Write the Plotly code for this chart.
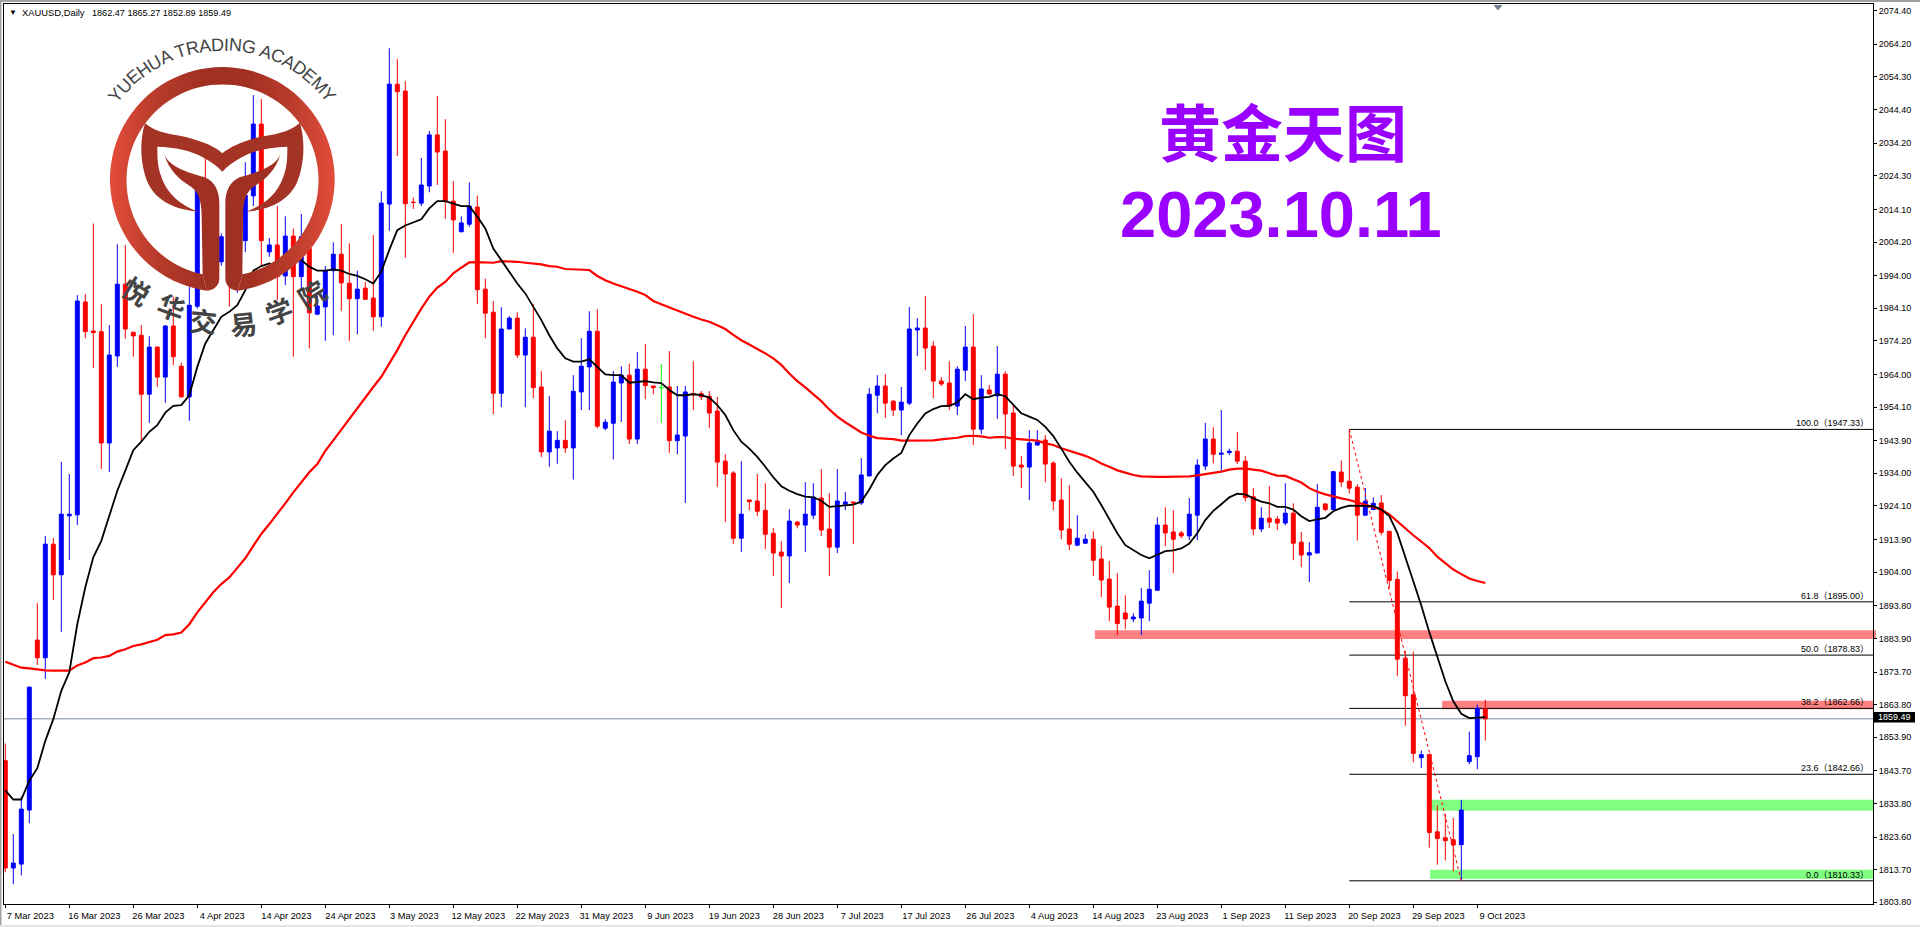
import base64, math
import plotly.graph_objects as go

opens = [1846.8,1814.2,1815.4,1831.8,1883.4,1878,1912.5,1903.2,1921.1,1921.4,
1986,1977.2,1977,1943.2,1969.6,1991.4,1976.8,1975.9,1958,1972.3,
1963.2,1978.7,1966.5,1957.2,1984.7,2020,2010,1998.2,1998,1993,
2004.6,2018.2,2040,2001.2,2003.3,1993.9,2006,1993.7,2002.3,1982.3,
1984.5,1995.5,2000.5,1991.7,1987,1990.2,1987.2,1981.5,2015.7,2052.1,
2050,2016.3,2016,2021.2,2036.7,2031.8,2016.6,2007.3,2009.6,2014.8,
1989.9,1982.9,1958.3,1977.8,1981.1,1969.9,1975.3,1960.2,1940.5,1941.7,
1944,1941.7,1958.7,1966.3,1977.1,1947.7,1949.2,1961.4,1963.8,1944.4,
1965.6,1960.5,1960,1960.2,1943.9,1945.3,1958.2,1958.2,1957.4,1952.9,
1937.7,1934.1,1914.3,1925.9,1925.6,1922.8,1915.8,1910.1,1908.9,1919.2,
1918.3,1921.3,1926.5,1917.1,1911.6,1924.6,1925.3,1925,1933.2,1957.7,
1960.5,1955.9,1953.2,1955.3,1977.5,1978.1,1972.6,1962,1961.4,1954.4,
1965.3,1972.3,1947.4,1959.3,1957.5,1964.1,1952.3,1936.5,1935.9,1942.6,
1944.1,1937.1,1925.9,1917.1,1912.2,1912.8,1914,1908,1901.9,1893.7,
1891.6,1889.8,1890.1,1894.6,1898.5,1918.3,1916.2,1915.9,1915,1921.3,
1936.2,1944.4,1939.8,1940.3,1940.7,1937.7,1926.9,1917.1,1920.4,1920.1,
1918.9,1921.9,1913.1,1909.2,1909.8,1924.7,1923,1934.4,1931.6,1929.8,
1921.3,1923,1925,1916.4,1901.8,1877.9,1866.8,1847.7,1848.7,1825.2,
1823.4,1822.8,1821.3,1846.5,1848,1862.47]

highs = [1852,1824.5,1835.9,1869.3,1894.6,1915,1914.4,1937.5,1933.8,1988.1,
1988.4,2009.8,1985.3,1979,2003.5,2003.3,1977,1979,1975.6,1972.5,
1979,1987.6,1967.6,1990.6,2021,2030.1,2012,2006.8,2006,2010,
2028.4,2048.8,2047.6,2005.4,2015.1,2012,2008.3,2012.7,2006,1988,
1996.9,2004.1,2009.6,2003.8,1995.5,1992.1,2006.3,2019.6,2063,2059.7,
2053,2017.7,2029.7,2037.9,2048.5,2041.5,2022.7,2012,2022.3,2018.3,
1993.1,1986.3,1984.4,1981.7,1982.9,1978,1985.3,1965,1957.4,1946.8,
1950.1,1963.8,1975,1983.2,1983.8,1950.4,1965,1966.5,1967.3,1970.8,
1973.2,1960.5,1967.2,1971.1,1960.5,1960.5,1968,1959,1959,1957.2,
1939.8,1934.7,1937.7,1926,1933.8,1931,1917.4,1913.4,1923.1,1919.5,
1931.3,1931,1935.3,1928,1935.3,1928.3,1925.3,1938.6,1959.9,1963.8,
1964.1,1956.2,1960.2,1984.5,1981.1,1987.8,1974.1,1963.2,1968,1966.5,
1978.7,1982.3,1963.8,1960.8,1972.6,1965,1954.7,1939.2,1947.1,1947.1,
1945.6,1937.7,1932.5,1930.4,1921.3,1915.5,1916.4,1911.9,1907.4,1903.7,
1897,1891.5,1899.2,1904.6,1920.7,1923.7,1922.8,1916.5,1926.5,1938.3,
1949.3,1948,1953.2,1941.5,1946.5,1939.2,1929.5,1923.7,1930.1,1921,
1931,1924.9,1916.2,1913.1,1930.7,1925,1934.7,1937.9,1947.3,1930.7,
1929.5,1926.7,1927.4,1916.5,1904.2,1880.1,1879.9,1849.9,1848.8,1833.3,
1830.6,1829.4,1834.9,1855.6,1863.8,1865.27]

lows = [1812.9,1809.3,1812,1827.8,1875.8,1871.6,1895.6,1885.9,1907.7,1918.3,
1975,1966,1935.3,1934.4,1966.3,1974.9,1969.4,1944,1949.3,1960.3,
1955.4,1966.8,1957,1949.9,1984,2008,1997,1997,1984.6,1988.8,
2001.2,2015.1,1996.7,1999.7,1986.6,1991.1,1969.4,1990,1971.9,1982,
1974.2,1975.9,1983.3,1974.2,1976.2,1986.7,1977.3,1978.5,2007.6,2030.3,
1999.4,2014.2,2015.1,2019.3,2021.5,2011.2,2000.9,2007.2,2008.8,1985.4,
1975,1951.9,1954.1,1977.7,1969,1954.1,1956.8,1938.9,1936,1936.9,
1940.2,1932.1,1953.2,1953.2,1947.7,1947.1,1938.2,1949.6,1942.9,1942.9,
1956.5,1958,1949.3,1940.2,1939.8,1925,1953.2,1956.2,1947.7,1929.9,
1919.2,1912.5,1910.1,1922.8,1921,1911,1902.8,1893.1,1900.7,1917.3,
1910.1,1920.1,1915,1902.8,1909.8,1922.8,1912.5,1924.4,1933.1,1952.2,
1950.8,1951.4,1945.6,1954.7,1969.6,1965.3,1956.8,1960.5,1953.2,1951.7,
1962,1942.6,1945.9,1957.8,1950.5,1941.3,1933.2,1929.5,1925.9,1942.3,
1931.3,1922.8,1914,1910.7,1911.9,1912.5,1902.8,1896.4,1889.1,1884.9,
1886.7,1888.8,1884.9,1889.1,1898.5,1911.9,1903.7,1914.3,1913.7,1913.7,
1935,1937,1934.8,1939.5,1936.8,1925.4,1915.2,1916.2,1917.4,1916.8,
1918.2,1907.6,1905.5,1901,1909.7,1922.5,1922.9,1929.9,1927.9,1913.6,
1921.2,1922.9,1915.2,1899,1872.4,1857.4,1846.3,1844.6,1820.4,1815.2,
1816.5,1813.2,1810.6,1845.7,1844.2,1852.89]

closes = [1814.2,1815.7,1832.1,1869.1,1878,1912.5,1903.2,1921.6,1921.6,1986.3,
1977,1976.7,1943.2,1969.9,1991.4,1977.8,1975.7,1958,1972.3,1963.2,
1978.7,1969.4,1957.2,1985,2020,2010,1999,2005.8,1993,2004.5,
2018.4,2040,2004.6,2003.3,1993.7,2006,1993.7,2005.8,1982.7,1984.8,
1995.5,2000.5,1991.8,1987,1989.9,1986.8,1981.5,2016,2052.1,2049.8,
2015.8,2016.2,2021.5,2036.7,2031.5,2016.6,2010.9,2010,2015.1,1989.7,
1982.6,1958.3,1977.8,1981.1,1969.9,1975.3,1960,1940.5,1946.8,1944,
1941.7,1958.9,1966.5,1977.1,1948.3,1949.5,1961.7,1963.8,1944.4,1965.6,
1960.6,1960,1960,1943.9,1945.6,1958.7,1958,1957.2,1952.3,1937.4,
1933.8,1914.3,1921.6,1925.4,1922.5,1915.5,1909.8,1908.9,1919.5,1918.3,
1921.6,1926.8,1916.8,1911.6,1925.6,1925.3,1925,1933.5,1958,1960.5,
1955.3,1953.2,1955.6,1977.8,1978.1,1972,1962,1961.1,1954.4,1965.6,
1972.3,1947.4,1959.6,1958.1,1964.1,1952,1936.2,1935.9,1943.2,1943.5,
1936.8,1925.6,1916.8,1912.5,1914.3,1914,1907.6,1901.6,1893.4,1888.4,
1889.8,1890.4,1895.2,1898.8,1918.3,1915.9,1914,1915,1921.6,1936.5,
1944.4,1939.8,1940.1,1940.7,1937.7,1926.6,1917.1,1920.4,1919.2,1918.9,
1921.9,1912.8,1909.2,1909.9,1923.7,1923,1934.5,1931.4,1929.5,1921.3,
1925.5,1924.9,1916.1,1901.5,1877.6,1866.5,1849,1848.6,1825,1823.2,
1822.5,1821.2,1831.8,1848.3,1862.7,1859.49]

ma_fast = [1837.8,1835,1835,1840.7,1844.5,1852.8,1859.4,1868,1873.6,1888.2,
1899.4,1908.5,1913.5,1921.1,1928.7,1934.8,1941,1943.6,1946.6,1948.6,
1952.4,1954.5,1954.7,1957.7,1966.3,1973.4,1977.5,1981.5,1983,1985,
1989.6,1995.5,1996.9,1997.7,1996.7,1998.2,1999.2,1998.7,1996.7,1995.5,
1995.5,1995.9,1995.5,1994.5,1993.9,1992.9,1991.6,1995.2,2001.8,2007.8,
2009.2,2010.1,2011.1,2014.4,2016.6,2016.6,2015.9,2015.1,2015.1,2011.9,
2008.3,2002.2,1998.7,1995.2,1991.6,1988.6,1984.5,1980.5,1975.9,1971.9,
1968.9,1967.9,1967.9,1968.6,1966.3,1964,1963.8,1963.8,1961.5,1961.8,
1962,1961.6,1961.4,1959.3,1957.7,1957.7,1958,1957.7,1957,1954.7,
1951.7,1947.1,1943.6,1941.5,1939,1936,1932.8,1930.1,1928.7,1927.7,
1926.9,1926.7,1925.7,1923.8,1924,1924.4,1924.5,1925.4,1929.1,1933.5,
1936.5,1938.5,1940.2,1945.6,1949.1,1952.2,1953.5,1954.4,1954.5,1955.5,
1958,1956.5,1957,1957.2,1958,1957.4,1954.7,1952.2,1951.2,1950.2,
1948.1,1945.3,1941.5,1937.5,1934.2,1931.4,1928.4,1924.4,1920.1,1915.8,
1912.2,1910.7,1909.2,1908.2,1909.4,1910.4,1910.6,1911.2,1912.7,1915.8,
1919.8,1922.6,1924.6,1926.7,1927.8,1927.6,1926.4,1925.4,1924.9,1923.8,
1923.8,1923,1921,1919.5,1920,1920.5,1922.5,1923.5,1924.2,1924.2,
1924.1,1924,1923,1921,1915.9,1908.7,1901.1,1893.9,1885.8,1878.1,
1870.9,1864.8,1861,1859.7,1859.8,1860]

ma_slow = [1876.8,1875.8,1875,1874.8,1874.4,1874.2,1874.1,1874.1,1874.1,1875.7,
1876.6,1877.9,1878.1,1878.6,1879.9,1880.6,1881.6,1882.1,1882.7,1883.5,
1884.9,1885.1,1885.7,1888.2,1891.8,1894.8,1897.9,1900.4,1902.4,1905.3,
1908.2,1912,1915.6,1918.6,1921.6,1924.9,1928.2,1931.3,1934.3,1936.8,
1940.8,1944,1947.3,1950.3,1953.6,1957.2,1960.2,1963.3,1967.3,1971.4,
1975.9,1980,1984,1987.6,1990.4,1992.1,1994.7,1996.4,1998,1998.1,
1997.9,1997.9,1998.4,1998.4,1998.2,1997.9,1997.7,1997.4,1996.9,1996.7,
1996,1995.9,1995.9,1995.7,1993.9,1992.6,1991.6,1990.8,1990.1,1989.1,
1988.1,1986.3,1985.3,1984.3,1983.3,1982.3,1981.5,1980.7,1980,1978.9,
1977.8,1976,1974.4,1973.1,1971.8,1970.4,1968.9,1966.9,1964.3,1962,
1960.1,1958,1955.9,1953.4,1951.2,1949.5,1947.9,1946.4,1945.4,1944.7,
1944.5,1944.4,1943.9,1943.9,1943.9,1943.9,1944,1944.3,1944.5,1944.8,
1945.3,1945.4,1945.2,1944.8,1945,1945,1944.5,1944.3,1944.2,1943.9,
1943.1,1942.6,1941.6,1940.8,1940.2,1939.3,1938.3,1937,1936,1934.9,
1934.2,1933.5,1933.1,1932.9,1932.9,1932.9,1932.9,1932.9,1933.1,1933.4,
1933.7,1934,1934.5,1935.1,1935.4,1935.4,1935.1,1934.8,1934,1933.3,
1933.2,1932.2,1931.2,1929.5,1928.4,1927.6,1926.9,1926.4,1925.9,1925.2,
1924.4,1923.8,1923,1921.5,1919.3,1917.2,1915.2,1913.3,1911.3,1908.7,
1906.7,1904.8,1903.4,1902.1,1901.3,1900.7]

x_tick_labels = ["7 Mar 2023","16 Mar 2023","26 Mar 2023","4 Apr 2023","14 Apr 2023","24 Apr 2023",
"3 May 2023","12 May 2023","22 May 2023","31 May 2023","9 Jun 2023","19 Jun 2023","28 Jun 2023",
"7 Jul 2023","17 Jul 2023","26 Jul 2023","4 Aug 2023","14 Aug 2023","23 Aug 2023","1 Sep 2023",
"11 Sep 2023","20 Sep 2023","29 Sep 2023","9 Oct 2023"]
y_ticks = [2074.40,2064.20,2054.30,2044.40,2034.20,2024.30,2014.10,2004.20,1994.00,1984.10,1974.20,
1964.00,1954.10,1943.90,1934.00,1924.10,1913.90,1904.00,1893.80,1883.90,1873.70,1863.80,1853.90,
1843.70,1833.80,1823.60,1813.70,1803.80]
fib_pct = ["100.0","61.8","50.0","38.2","23.6","0.0"]
fib_price = [1947.33,1895.00,1878.83,1862.66,1842.66,1810.33]
last_price = 1859.49
doji_index = 82
fib_start, fib_end = 168, 182
zones_pink = [(136.2,1883.7,1886.35,1876),(179.6,1862.4,1865.0,1874)]
zones_green = [(178.1,1831.6,1834.9,1873),(178.1,1810.9,1813.7,1873)]

W, H = 1920, 927
L, R, T, B = 4, 1873, 4, 904
BAR0, BARW = 5.3, 8.0
xmin = (L - BAR0) / BARW
xmax = (R - BAR0) / BARW
PPP = 3.295
ymax = 2074.4 + (10.7 - T) / PPP
ymin = 2074.4 - (B - 10.7) / PPP
def px(x): return (x - L) / (R - L)
def py(y): return 1 - (y - T) / (B - T)

idx = list(range(len(opens)))
main = [i for i in idx if i != doji_index]
fig = go.Figure()
fig.add_trace(go.Candlestick(
    x=main, open=[opens[i] for i in main], high=[highs[i] for i in main],
    low=[lows[i] for i in main], close=[closes[i] for i in main],
    increasing=dict(line=dict(color="#0000ff", width=1), fillcolor="#0000ff"),
    decreasing=dict(line=dict(color="#ff0000", width=1), fillcolor="#ff0000"),
    showlegend=False, hoverinfo="skip"))
fig.add_trace(go.Candlestick(
    x=[doji_index], open=[opens[doji_index]], high=[highs[doji_index]],
    low=[lows[doji_index]], close=[closes[doji_index]],
    increasing=dict(line=dict(color="#00ff00", width=1), fillcolor="#00ff00"),
    decreasing=dict(line=dict(color="#00ff00", width=1), fillcolor="#00ff00"),
    showlegend=False, hoverinfo="skip"))
fig.add_trace(go.Scatter(x=[fib_start, fib_end], y=[fib_price[0], fib_price[-1]], mode="lines",
    line=dict(color="#ff0000", width=1, dash="dot"), showlegend=False, hoverinfo="skip"))
fig.add_trace(go.Scatter(x=idx, y=ma_slow, mode="lines", line=dict(color="#ff0000", width=2.2),
    showlegend=False, hoverinfo="skip"))
fig.add_trace(go.Scatter(x=idx, y=ma_fast, mode="lines", line=dict(color="#000000", width=1.8),
    showlegend=False, hoverinfo="skip"))

shapes = []
for zones, colour in ((zones_pink, "#ff8080"), (zones_green, "#80ff80")):
    for x0, y0, y1, xr in zones:
        shapes.append(dict(type="rect", xref="paper", yref="y", x0=px(BAR0 + BARW * x0), x1=px(xr), y0=y0, y1=y1,
                           fillcolor=colour, line_width=0, layer="below"))
for level in fib_price:
    shapes.append(dict(type="line", xref="x", yref="y", x0=fib_start, x1=xmax, y0=level, y1=level,
                       line=dict(color="#000000", width=1), layer="below"))
shapes.append(dict(type="line", xref="x", yref="y", x0=xmin, x1=xmax, y0=last_price, y1=last_price,
                   line=dict(color="#778899", width=1), layer="below"))
# window chrome
shapes.append(dict(type="rect", xref="paper", yref="paper", x0=px(0), x1=px(1920), y0=py(0), y1=py(2),
                   fillcolor="#a0a0a0", line_width=0))
shapes.append(dict(type="rect", xref="paper", yref="paper", x0=px(0), x1=px(1.5), y0=py(0), y1=py(925),
                   fillcolor="#a0a0a0", line_width=0))
shapes.append(dict(type="rect", xref="paper", yref="paper", x0=px(0), x1=px(1920), y0=py(925), y1=py(927),
                   fillcolor="#e4e4e4", line_width=0))
# shift marker and current-price box
shapes.append(dict(type="path", xref="paper", yref="paper",
                   path=f"M{px(1493.5)},{py(5)} L{px(1502.5)},{py(5)} L{px(1498)},{py(10.5)} Z",
                   fillcolor="#708090", line_width=0))
shapes.append(dict(type="rect", xref="paper", yref="paper", x0=px(1874), x1=px(1915), y0=py(712), y1=py(722.5),
                   fillcolor="#000000", line_width=0))

anns = []
def text(x, y, s, size, color="#000000", family="Liberation Sans", anchor="left", bold=False, angle=0, yshift=0):
    anns.append(dict(xref="paper", yref="paper", x=px(x), y=py(y), text=f"<b>{s}</b>" if bold else s,
                     showarrow=False, xanchor=anchor, yanchor="middle", textangle=angle, yshift=yshift,
                     font=dict(size=size, color=color, family=family)))

text(7, 12.7, "▼", 8)
text(20, 12.7, "XAUUSD,Daily", 9.4)
text(90, 12.7, "1862.47 1865.27 1852.89 1859.49", 9.1)
text(1283, 130, "黄金天图", 62, "#9900ff", "Noto Sans CJK SC", "center", True)
text(1281, 214, "2023.10.11", 65, "#9900ff", "Liberation Sans", "center", True)
text(1894.5, 717.3, f"{last_price:.2f}", 9, "#ffffff", "Liberation Sans", "center")
for pct, level in zip(fib_pct, fib_price):
    anns.append(dict(xref="paper", yref="paper", x=px(1871), y=1 - (ymax - level) / (ymax - ymin),
                     text=f"{pct}（{level:.2f}）", showarrow=False,
                     xanchor="right", yanchor="middle", yshift=6,
                     font=dict(size=9, color="#000000", family="Liberation Sans, Noto Sans CJK SC")))

# logo lettering
arc = "YUEHUA TRADING ACADEMY"
adv = dict(Y=.667,U=.722,E=.667,H=.722,A=.667,T=.611,R=.722,D=.722,I=.278,N=.722,G=.778,C=.722,M=.833)
adv[" "] = .278
fs, rad, cx, cy = 18.0, 136.0, 222.3, 180.5
total = sum(adv[c] for c in arc) * fs
pos = -total / 2
for c in arc:
    w = adv[c] * fs
    a = (pos + w / 2) / rad
    pos += w
    if c != " ":
        text(cx + rad * math.sin(a), cy - rad * math.cos(a), c, fs, "#444444", "Liberation Sans", "center",
             angle=math.degrees(a))
cn = [("悦",136.5,290.5,32),("华",171.5,306.5,20),("交",203.5,320,6),("易",243.5,323,-6),("学",278.5,310,-20),("院",311.5,293.5,-32)]
for ch, x, y, ang in cn:
    text(x, y, ch, 27, "#444444", "Noto Sans CJK SC", "center", True, ang)

svg = '''<svg xmlns="http://www.w3.org/2000/svg" width="780" height="960" viewBox="0 0 780 960">
<defs><linearGradient id="g" gradientUnits="userSpaceOnUse" x1="30" y1="0" x2="703" y2="0">
<stop offset="0" stop-color="#e44d3a"/><stop offset=".2" stop-color="#b83b2b"/><stop offset=".42" stop-color="#a03022"/>
<stop offset=".6" stop-color="#a03022"/><stop offset=".8" stop-color="#b83b2b"/><stop offset="1" stop-color="#e24c3a"/></linearGradient></defs>
<g fill="url(#g)">
<path d="M320,782 A337,337 0 1 1 414,782 L427,733 A288,288 0 1 0 308,733 Z"/>
<path fill="#a33325" d="M135,280 C170,310 215,312 260,322 C310,335 345,350 367,370 C390,350 425,335 475,322 C520,312 565,310 600,278 C615,330 615,400 590,460 C560,520 500,540 438,545 C480,530 530,500 550,440 C562,410 562,380 562,350 C510,352 460,360 420,385 C400,397 380,410 367,425 C354,410 334,397 314,385 C274,360 224,352 172,350 C172,380 172,410 184,440 C204,500 254,530 296,545 C234,540 174,520 144,460 C119,400 119,330 135,280 Z"/>
<path fill="#a03022" d="M193,372 C205,410 265,428 315,442 C345,455 358,485 358,520 L358,745 C358,770 338,782 320,782 L308,733 L305,560 C305,510 295,485 270,468 C240,450 205,420 193,372 Z"/>
<path fill="#a03022" d="M541,372 C529,410 469,428 419,442 C389,455 376,485 376,520 L376,745 C376,770 396,782 414,782 L427,733 L429,560 C429,510 439,485 464,468 C494,450 529,420 541,372 Z"/>
</g></svg>'''
logo = "data:image/svg+xml;base64," + base64.b64encode(svg.encode()).decode()

fig.update_layout(
    width=W, height=H, autosize=False, margin=dict(l=L, r=W - R, t=T, b=H - B, pad=0),
    paper_bgcolor="#ffffff", plot_bgcolor="#ffffff", showlegend=False, shapes=shapes, annotations=anns,
    images=[dict(source=logo, xref="paper", yref="paper", x=px(100), y=py(30), sizex=260 / (R - L),
                 sizey=320 / (B - T), xanchor="left", yanchor="top", sizing="stretch", layer="above")],
    xaxis=dict(range=[xmin, xmax], tickmode="array", tickvals=list(range(0, 185, 8)), ticktext=x_tick_labels,
               ticks="outside", ticklen=3, tickwidth=1, tickcolor="#000000", showgrid=False, zeroline=False,
               showline=True, mirror=True, linecolor="#000000", linewidth=1, rangeslider=dict(visible=False),
               tickangle=0, ticklabelshift=25, tickfont=dict(family="Liberation Sans", size=9.3, color="#000000")),
    yaxis=dict(range=[ymin, ymax], side="right", tickmode="array", tickvals=y_ticks,
               ticktext=[f"{v:.2f}" for v in y_ticks], ticks="outside", ticklen=3, tickwidth=1, tickcolor="#000000",
               showgrid=False, zeroline=False, showline=True, mirror=True, linecolor="#000000", linewidth=1,
               tickfont=dict(family="Liberation Sans", size=9, color="#000000")),
)
fig.write_html("out.html", config={"displayModeBar": False},
               post_script="document.body.style.margin='0';document.documentElement.style.overflow='hidden';")
